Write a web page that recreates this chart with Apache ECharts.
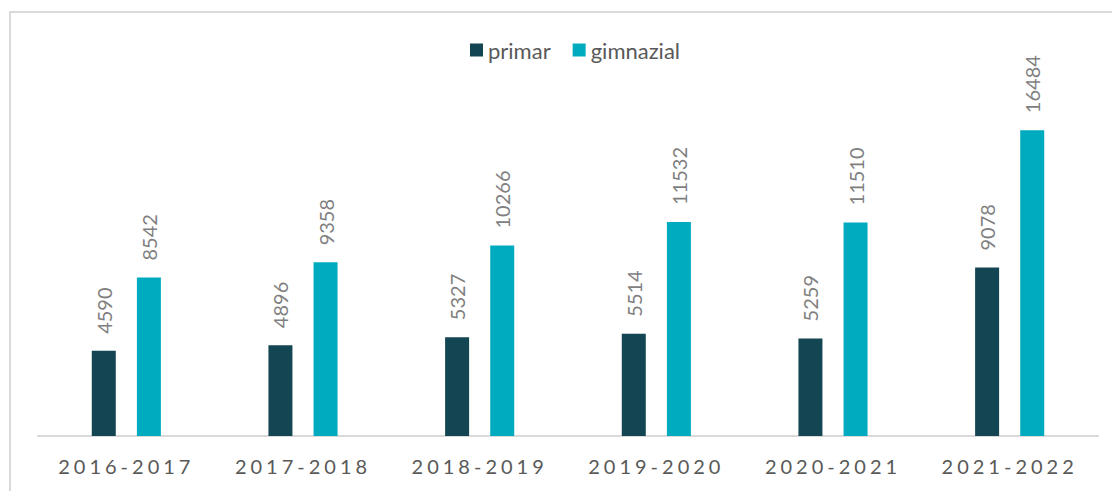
<!DOCTYPE html>
<html>
<head>
<meta charset="utf-8">
<script src="https://cdn.jsdelivr.net/npm/echarts@6/dist/echarts.min.js"></script>
<style>
    html, body { margin: 0; padding: 0; background: #fff; }
    #wrap { position: relative; width: 1112px; height: 491px; overflow: hidden; }
    #frame { position: absolute; left: 9px; top: 11px; width: 1200px; height: 600px; border-left: 2px solid #d9d9d9; border-top: 2px solid #d9d9d9; }
    #chart { position: absolute; left: 0; top: 0; width: 1112px; height: 491px; }
    /* axis labels are spaced out */
    #chart text[fill="#595958"] { letter-spacing: 4px; }
</style>
</head>
<body>
<div id="wrap">
    <div id="frame"></div>
    <div id="chart"></div>
</div>
<script>
    var years = ['2016-2017', '2017-2018', '2018-2019', '2019-2020', '2020-2021', '2021-2022'];
    var primar = [4590, 4896, 5327, 5514, 5259, 9078];
    var gimnazial = [8542, 9358, 10266, 11532, 11510, 16484];

    var chart = echarts.init(document.getElementById('chart'), null, { renderer: 'svg' });

    var valueLabel = {
        show: true,
        position: 'top',
        distance: 17,
        rotate: 90,
        align: 'left',
        verticalAlign: 'middle',
        color: '#7f7f7f',
        fontSize: 20,
        fontFamily: 'Lato'
    };

    var option = {
        animation: false,
        legend: {
            top: 34,
            left: 465,
            itemWidth: 13,
            itemHeight: 13,
            itemGap: 22,
            icon: 'rect',
            textStyle: { color: '#595959', fontSize: 22, fontFamily: 'Lato' },
            data: ['primar', 'gimnazial']
        },
        grid: {
            top: 102,
            bottom: 55,
            left: 38,
            right: 14
        },
        xAxis: {
            type: 'category',
            data: years,
            axisLine: { lineStyle: { color: '#d9d9d9', width: 2 } },
            axisTick: { show: false },
            axisLabel: {
                color: '#595958',
                fontSize: 20,
                fontFamily: 'Lato',
                margin: 20
            }
        },
        yAxis: {
            type: 'value',
            min: 0,
            max: 18000,
            show: false
        },
        series: [
            {
                name: 'primar',
                type: 'bar',
                data: primar,
                barWidth: 24,
                barGap: '88%',
                itemStyle: { color: '#134652' },
                label: valueLabel
            },
            {
                name: 'gimnazial',
                type: 'bar',
                data: gimnazial,
                barWidth: 24,
                barGap: '88%',
                itemStyle: { color: '#00abbf' },
                label: valueLabel
            }
        ]
    };

    chart.setOption(option);
</script>
</body>
</html>
